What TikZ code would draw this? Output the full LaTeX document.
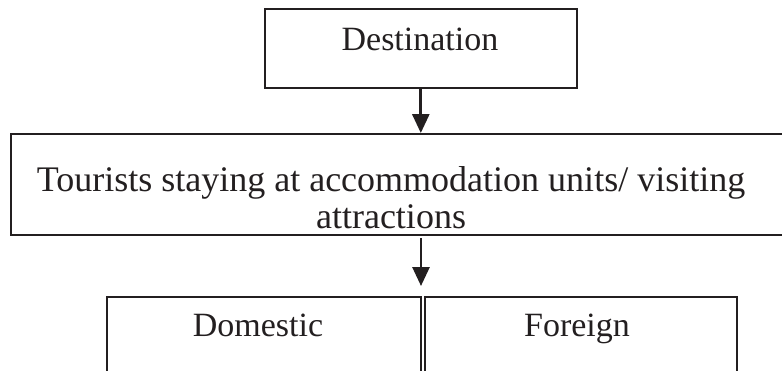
\documentclass[tikz,border=0pt]{standalone}
\usepackage{fontspec}
\setmainfont{Liberation Serif}
\usetikzlibrary{arrows.meta}
\definecolor{ink}{HTML}{231F20}
\begin{document}
\begin{tikzpicture}[x=1pt,y=1pt,
  box/.style={draw=ink, line width=1.6pt, inner sep=0pt, anchor=north west},
  lbl/.style={text=ink, font=\fontsize{34}{36}\selectfont, inner sep=0pt, anchor=base},
  big/.style={lbl, font=\fontsize{36}{38}\selectfont},
  conn/.style={draw=ink, line width=2.8pt, -{Triangle[width=17pt,length=19pt]}}]
\clip (0,0) rectangle (782,-370);
\node[box, minimum width=312pt, minimum height=79pt] (dest) at (264,-8) {};
\node[box, minimum width=790pt, minimum height=101pt] (mid) at (10,-133) {};
\node[box, minimum width=314pt, minimum height=100pt] (dom) at (106,-296) {};
\node[box, minimum width=312pt, minimum height=100pt] (for) at (424,-296) {};
\node[lbl] (destT) at (420,-50) {Destination};
\node[big] (midA) at (391,-191) {Tourists staying at accommodation units/ visiting};
\node[big] (midB) at (391,-228) {attractions};
\node[lbl] (domT) at (258,-336) {Domestic};
\node[lbl] (forT) at (577,-336) {Foreign};
\coordinate (a2s) at (421,-238);
\coordinate (a2e) at (421,-286);
\draw[conn] (dest.south) -- (dest.south |- mid.north);
\draw[conn] (a2s) -- (a2e);
\end{tikzpicture}
\end{document}
